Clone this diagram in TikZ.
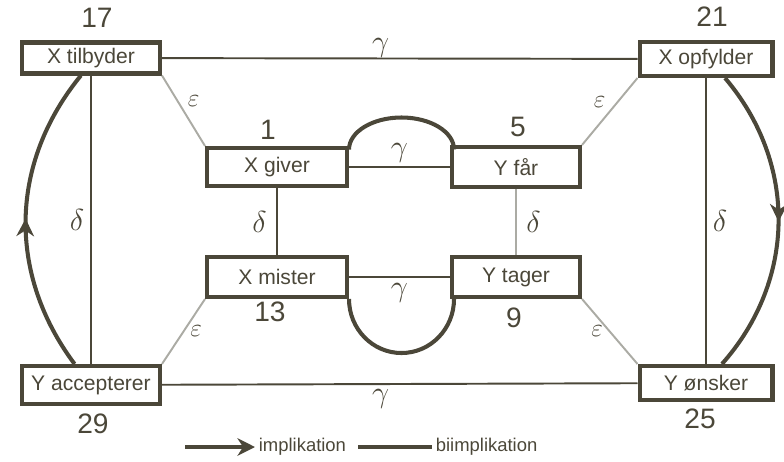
\documentclass[tikz,border=0pt]{standalone}
\usepackage{fontspec}
\setmainfont{Liberation Sans}
\usetikzlibrary{positioning,arrows.meta,decorations.markings}
\definecolor{blaek}{HTML}{4B4739}
\definecolor{lysgraa}{HTML}{ABABA4}
\tikzset{
  boks/.style={draw=blaek, line width=2.3pt, fill=white, text=blaek, inner sep=2pt, font=\fontsize{12}{14}\selectfont},
  tal/.style={text=blaek, font=\fontsize{16}{18}\selectfont},
  graesk/.style={text=blaek, font=\LARGE},
  eps/.style={text=blaek, font=\Large},
  linje/.style={draw=blaek, line width=1.1pt},
  svag/.style={draw=lysgraa, line width=1.1pt},
  bue/.style={draw=blaek, color=blaek, line width=2.3pt},
  pilbue/.style={bue, postaction={decorate},
    decoration={markings, mark=at position 0.5 with {\arrow{Stealth[length=10pt,width=10pt]}}}},
  forklaring/.style={text=blaek, font=\fontsize{10.5}{12}\selectfont, inner sep=1pt},
}

\begin{document}
\begin{tikzpicture}[x=0.02cm, y=0.02cm]
  \useasboundingbox (0,0) rectangle (784,461);

  % kasserne
  \node[boks, minimum width=2.76cm, minimum height=0.62cm] (tilbyder) at (91,403) {X tilbyder};
  \node[boks, minimum width=2.66cm, minimum height=0.68cm] (opfylder) at (706,402) {X opfylder};
  \node[boks, minimum width=2.8cm, minimum height=0.76cm] (giver) at (277,294) {X giver};
  \node[boks, minimum width=2.56cm, minimum height=0.8cm] (faar) at (516,294) {Y får};
  \node[boks, minimum width=2.8cm, minimum height=0.8cm] (mister) at (277,184) {X mister};
  \node[boks, minimum width=2.56cm, minimum height=0.8cm] (tager) at (516,184) {Y tager};
  \node[boks, minimum width=2.76cm, minimum height=0.76cm] (accepterer) at (91,76) {Y accepterer};
  \node[boks, minimum width=2.66cm, minimum height=0.68cm] (onsker) at (706,78) {Y ønsker};

  % numrene
  \node[tal] (n17) at (97,443) {17};
  \node[tal] (n21) at (712,444) {21};
  \node[tal] (n1) at (268,331) {1};
  \node[tal] (n5) at (518,334) {5};
  \node[tal] (n13) at (270,149) {13};
  \node[tal] (n9) at (514,143) {9};
  \node[tal] (n29) at (93,37) {29};
  \node[tal] (n25) at (700,42) {25};

  % gamma
  \draw[linje] (tilbyder) -- (opfylder) node[graesk, pos=0.46, above=-3pt] {$\gamma$};
  \draw[linje] (accepterer) -- (onsker) node[graesk, pos=0.46, below=-1pt] {$\gamma$};
  \draw[linje] (giver) -- (faar) node[graesk, midway, above=-1pt] {$\gamma$};
  \draw[linje] (mister) -- (tager) node[graesk, midway, below=0pt] {$\gamma$};
  \draw[bue] ([yshift=-2pt]giver.north east) arc[start angle=180, end angle=0, x radius=52.5, y radius=32];
  \draw[bue] (mister.south east) arc[start angle=180, end angle=360, x radius=52.5, y radius=54];

  % delta
  \draw[linje] (tilbyder) -- (accepterer) node[graesk, midway, left] {$\delta$};
  \draw[linje] (opfylder) -- (onsker) node[graesk, midway, right] {$\delta$};
  \draw[linje] (giver) -- (mister) node[graesk, midway, left=2pt] {$\delta$};
  \draw[svag] (faar) -- (tager) node[graesk, midway, right=2pt] {$\delta$};

  % epsilon
  \draw[svag] (tilbyder.south east) -- (giver.north west) node[eps, midway, above right=-2pt] {$\varepsilon$};
  \draw[svag] (faar.north east) -- (opfylder.south west) node[eps, midway, above left=-2pt] {$\varepsilon$};
  \draw[svag] (mister.south west) -- (accepterer.north east) node[eps, midway, right] {$\varepsilon$};
  \draw[svag] (tager.south east) -- (onsker.north west) node[eps, midway, left] {$\varepsilon$};

  % implikationerne
  \draw[pilbue] (accepterer.128) to[bend left=38] (tilbyder.240);
  \draw[pilbue] (opfylder.315) to[bend left=41] (onsker.50);

  % forklaring
  \coordinate (imA) at (185,14);
  \coordinate (imB) at (255,14);
  \draw[bue, -{Stealth[length=10pt,width=10pt]}] (imA) -- (imB);
  \node[forklaring, right=1pt of imB] (imtekst) {implikation};
  \coordinate (biA) at (358,14);
  \coordinate (biB) at (432,14);
  \draw[bue] (biA) -- (biB);
  \node[forklaring, right=1pt of biB] (bitekst) {biimplikation};
\end{tikzpicture}
\end{document}
